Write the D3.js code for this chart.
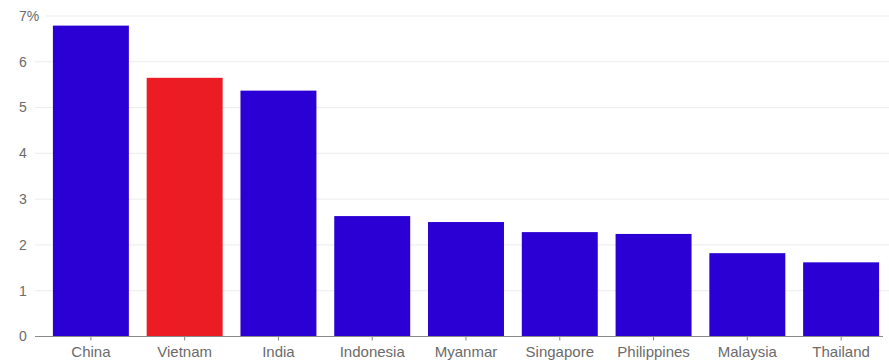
<!DOCTYPE html>
<html>
<head>
<meta charset="utf-8">
<script src="https://cdn.jsdelivr.net/npm/d3@7"></script>
<style>
  html, body { margin: 0; padding: 0; background: #fff; }
  svg { display: block; }
  text { font-family: "Liberation Sans", Arial, Helvetica, sans-serif; fill: #6b6b6b; }
</style>
</head>
<body>
<svg id="chart" width="889" height="361"></svg>
<script>
// Growth rates by country, percent
const countries = ["China", "Vietnam", "India", "Indonesia", "Myanmar", "Singapore", "Philippines", "Malaysia", "Thailand"];
const growth = [6.79, 5.65, 5.37, 2.63, 2.50, 2.28, 2.24, 1.82, 1.62];
const highlight = ["Vietnam"];
const yTicks = [0, 1, 2, 3, 4, 5, 6, 7];

const svg = d3.select("#chart");
const W = 889, H = 361;

const x = d3.scaleBand()
  .domain(countries)
  .range([44, 888])
  .paddingInner(0.19)
  .paddingOuter(0.095);

const y = d3.scaleLinear()
  .domain([0, 7])
  .range([336.5, 16]);

// Horizontal gridlines
svg.append("g")
  .selectAll("line")
  .data(yTicks.filter(d => d > 0))
  .join("line")
  .attr("x1", d => d === 7 ? 46 : 35)
  .attr("x2", W)
  .attr("y1", d => y(d))
  .attr("y2", d => y(d))
  .attr("stroke", "#ececec")
  .attr("stroke-width", 1);

// Y tick labels, left aligned
svg.append("g")
  .selectAll("text")
  .data(yTicks)
  .join("text")
  .attr("x", 19)
  .attr("y", d => y(d))
  .attr("dy", "0.35em")
  .attr("font-size", 14)
  .text(d => d === 7 ? "7%" : d);

// Bars
svg.append("g")
  .selectAll("rect")
  .data(countries.map((c, i) => ({ c, v: growth[i] })))
  .join("rect")
  .attr("x", d => x(d.c))
  .attr("width", x.bandwidth())
  .attr("y", d => y(d.v))
  .attr("height", d => y(0) - y(d.v))
  .attr("fill", d => highlight.includes(d.c) ? "#ec1c24" : "#2a00d4");

// X axis baseline and ticks
const xAxis = svg.append("g")
  .attr("transform", `translate(0,${y(0)})`)
  .call(d3.axisBottom(x).tickSize(4).tickSizeOuter(0).tickPadding(6));
xAxis.select(".domain").remove();
xAxis.selectAll(".tick line").attr("stroke", "#888");
xAxis.selectAll(".tick text")
  .attr("font-size", 15)
  .attr("font-family", "'Liberation Sans', Arial, Helvetica, sans-serif")
  .attr("fill", "#6b6b6b");

svg.append("line")
  .attr("x1", 35).attr("x2", 883)
  .attr("y1", y(0)).attr("y2", y(0))
  .attr("stroke", "#8a8a8a")
  .attr("stroke-width", 1);
</script>
</body>
</html>
